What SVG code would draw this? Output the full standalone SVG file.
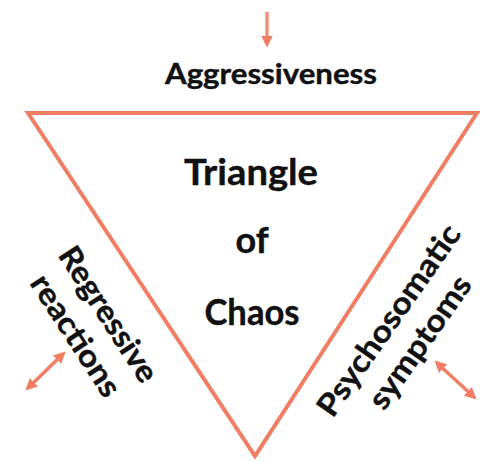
<svg xmlns="http://www.w3.org/2000/svg" width="480" height="462" viewBox="0 0 480 462">
  <defs>
    <style>
      .edge { fill: none; stroke: #EF7E63; stroke-width: 4; stroke-linejoin: miter; }
      .arrow { fill: none; stroke: #EF7E63; stroke-width: 3.5; }
      .lbl { font-family: Lato, "Open Sans", "DejaVu Sans", sans-serif; font-weight: bold; fill: #111; text-anchor: middle; stroke: #111; stroke-width: 0.4; }
    </style>
    <marker id="head" viewBox="0 0 10 10" refX="7" refY="5" markerWidth="3.4" markerHeight="3.4" orient="auto-start-reverse" markerUnits="strokeWidth">
      <path d="M0,0 L10,5 L0,10 Z" fill="#EF7E63"/>
    </marker>
  </defs>
  <rect width="480" height="462" fill="#fff"/>

  <!-- inverted triangle -->
  <g id="triangle">
    <path class="edge" d="M28,113 L477,113 L255,456 Z"/>
    <text class="lbl" x="251" y="185" font-size="36" textLength="134" lengthAdjust="spacingAndGlyphs">Triangle</text>
    <text class="lbl" x="252" y="253" font-size="36">of</text>
    <text class="lbl" x="252" y="325" font-size="36" textLength="95" lengthAdjust="spacingAndGlyphs">Chaos</text>
  </g>

  <g id="aggressiveness">
    <text class="lbl" x="271" y="84" font-size="28" textLength="212" lengthAdjust="spacingAndGlyphs">Aggressiveness</text>
  </g>

  <g id="regressive">
    <g transform="translate(92,325) rotate(57)">
      <text class="lbl" x="0" y="-9" font-size="31" textLength="155" lengthAdjust="spacingAndGlyphs">Regressive</text>
      <text class="lbl" x="0" y="30" font-size="31" textLength="139" lengthAdjust="spacingAndGlyphs">reactions</text>
    </g>
  </g>

  <g id="psychosomatic">
    <g transform="translate(404,331) rotate(-55)">
      <text class="lbl" x="0" y="-8" font-size="31" textLength="226" lengthAdjust="spacingAndGlyphs">Psychosomatic</text>
      <text class="lbl" x="0" y="30" font-size="31" textLength="155" lengthAdjust="spacingAndGlyphs">symptoms</text>
    </g>
  </g>

  <!-- connectors -->
  <g id="connectors">
    <line class="arrow" x1="267" y1="12" x2="267" y2="44" stroke-width="2.5" stroke-opacity="0.85" marker-end="url(#head)"/>
    <line class="arrow" x1="28" y1="388" x2="63" y2="354" marker-start="url(#head)" marker-end="url(#head)"/>
    <line class="arrow" x1="437" y1="363" x2="474" y2="397" marker-start="url(#head)" marker-end="url(#head)"/>
  </g>
</svg>
